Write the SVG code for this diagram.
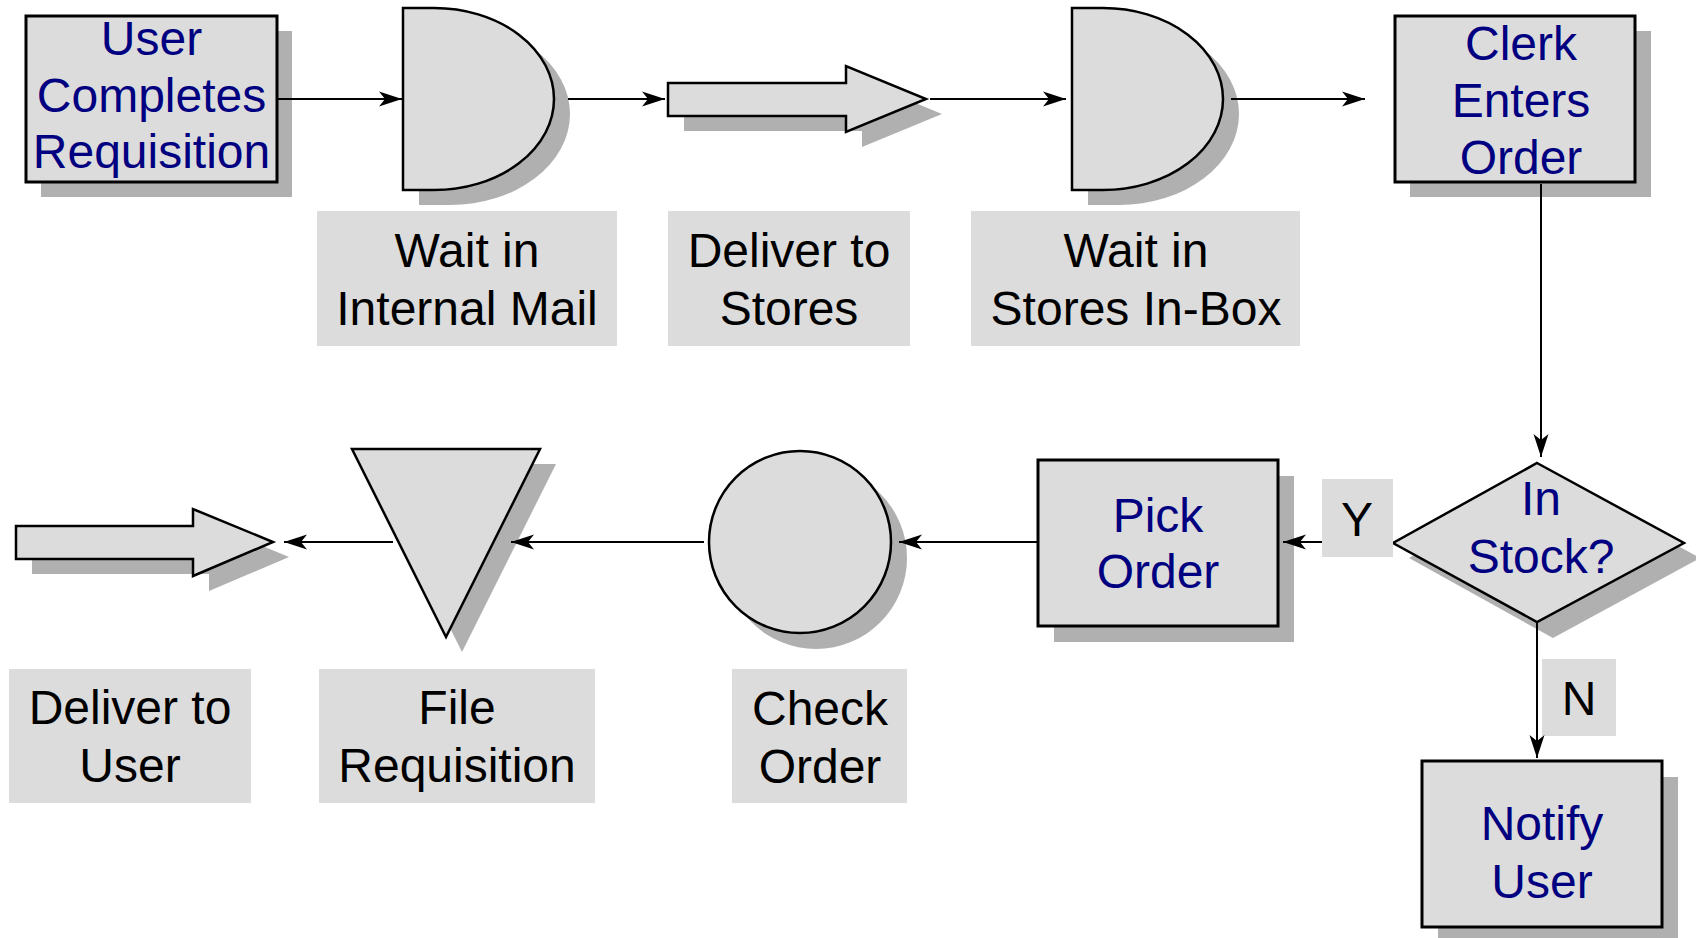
<svg xmlns="http://www.w3.org/2000/svg" width="1696" height="938" viewBox="0 0 1696 938">
<defs>
<style>
.sh{fill:#b0b0b0;stroke:none}
.nd{fill:#dcdcdc;stroke:#000;stroke-width:2.5}
.bx{fill:#dcdcdc;stroke:#000;stroke-width:3}
.lb{fill:#dcdcdc;stroke:none}
.tb{font-family:"Liberation Sans",Arial,sans-serif;font-size:48px;fill:#000080;text-anchor:middle}
.tk{font-family:"Liberation Sans",Arial,sans-serif;font-size:48px;fill:#000;text-anchor:middle}
.cn{fill:none;stroke:#000;stroke-width:2;marker-end:url(#ah)}
</style>
<marker id="ah" markerUnits="userSpaceOnUse" viewBox="-24 -9 26 18" markerWidth="26" markerHeight="18" refX="0" refY="0" orient="auto">
<path d="M0,0 L-23,-7.5 L-17,0 L-23,7.5 Z" fill="#000"/>
</marker>
</defs>
<rect width="1696" height="938" fill="#fff"/>

<g id="user-completes">
<rect class="sh" x="41" y="31" width="251" height="166"/>
<rect class="bx" x="26" y="16" width="251" height="166"/>
<text class="tb" x="151.5" y="55">User</text>
<text class="tb" x="151.5" y="112">Completes</text>
<text class="tb" x="151.5" y="168">Requisition</text>
</g>

<g id="wait-internal-mail">
<path class="sh" d="M419,23 L450,23 A120,91 0 0 1 450,205 L419,205 Z"/>
<path class="nd" d="M403,8 L434,8 A120,91 0 0 1 434,190 L403,190 Z"/>
<rect class="lb" x="317" y="211" width="300" height="135"/>
<text class="tk" x="467" y="267">Wait in</text>
<text class="tk" x="467" y="325">Internal Mail</text>
</g>

<g id="deliver-to-stores">
<polygon class="sh" points="684,98 862,98 862,81 942,114 862,147 862,131 684,131"/>
<polygon class="nd" points="668,83 846,83 846,66 926,99 846,132 846,116 668,116"/>
<rect class="lb" x="668" y="211" width="242" height="135"/>
<text class="tk" x="789" y="267">Deliver to</text>
<text class="tk" x="789" y="325">Stores</text>
</g>

<g id="wait-stores-inbox">
<path class="sh" d="M1088,23 L1119,23 A120,91 0 0 1 1119,205 L1088,205 Z"/>
<path class="nd" d="M1072,8 L1103,8 A120,91 0 0 1 1103,190 L1072,190 Z"/>
<rect class="lb" x="971" y="211" width="329" height="135"/>
<text class="tk" x="1136" y="267">Wait in</text>
<text class="tk" x="1136" y="325">Stores In-Box</text>
</g>

<g id="clerk-enters-order">
<rect class="sh" x="1410" y="31" width="241" height="166"/>
<rect class="bx" x="1395" y="16" width="240" height="166"/>
<text class="tb" x="1521" y="60">Clerk</text>
<text class="tb" x="1521" y="117">Enters</text>
<text class="tb" x="1521" y="174">Order</text>
</g>

<g id="in-stock">
<polygon class="sh" points="1553,478 1700,558 1553,638 1409,558"/>
<polygon class="nd" points="1537,463 1684,543 1537,622 1393,543"/>
<text class="tb" x="1541" y="515">In</text>
<text class="tb" x="1541" y="573">Stock?</text>
</g>

<g id="label-y">
<rect class="lb" x="1322" y="479" width="71" height="78"/>
<text class="tk" x="1357" y="536">Y</text>
</g>

<g id="label-n">
<rect class="lb" x="1542" y="659" width="74" height="77"/>
<text class="tk" x="1579" y="715">N</text>
</g>

<g id="notify-user">
<rect class="sh" x="1438" y="777" width="240" height="166"/>
<rect class="bx" x="1422" y="761" width="240" height="166"/>
<text class="tb" x="1542" y="840">Notify</text>
<text class="tb" x="1542" y="898">User</text>
</g>

<g id="pick-order">
<rect class="sh" x="1054" y="476" width="240" height="166"/>
<rect class="bx" x="1038" y="460" width="240" height="166"/>
<text class="tb" x="1158" y="532">Pick</text>
<text class="tb" x="1158" y="588">Order</text>
</g>

<g id="check-order">
<circle class="sh" cx="816" cy="558" r="91"/>
<circle class="nd" cx="800" cy="542" r="91"/>
<rect class="lb" x="732" y="669" width="175" height="134"/>
<text class="tk" x="820" y="725">Check</text>
<text class="tk" x="820" y="783">Order</text>
</g>

<g id="file-requisition">
<polygon class="sh" points="368,464 556,464 462,652"/>
<polygon class="nd" points="352,449 540,449 446,637"/>
<rect class="lb" x="319" y="669" width="276" height="134"/>
<text class="tk" x="457" y="724">File</text>
<text class="tk" x="457" y="782">Requisition</text>
</g>

<g id="deliver-to-user">
<polygon class="sh" points="32,541 209,541 209,524 289,557 209,591 209,574 32,574"/>
<polygon class="nd" points="16,526 193,526 193,509 273,542 193,576 193,559 16,559"/>
<rect class="lb" x="9" y="669" width="242" height="134"/>
<text class="tk" x="130" y="724">Deliver to</text>
<text class="tk" x="130" y="782">User</text>
</g>

<g id="connectors">
<path class="cn" d="M278,99 H402"/>
<path class="cn" d="M568,99 H665"/>
<path class="cn" d="M930,99 H1066"/>
<path class="cn" d="M1231,99 H1365"/>
<path class="cn" d="M1541,184 V457"/>
<path class="cn" d="M1322,542 H1283"/>
<path class="cn" d="M1537,623 V758"/>
<path class="cn" d="M1037,542 H899"/>
<path class="cn" d="M704,542 H511"/>
<path class="cn" d="M393,542 H284"/>
</g>
</svg>
